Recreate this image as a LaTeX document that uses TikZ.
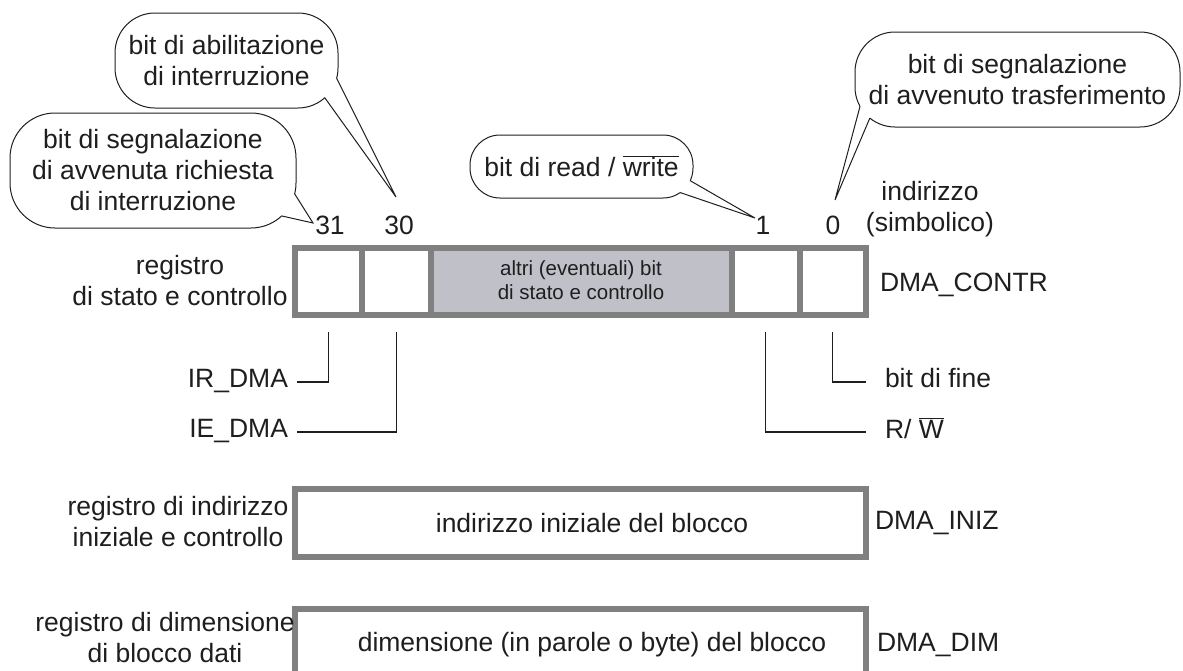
\documentclass[tikz,border=0pt]{standalone}
\usepackage{fontspec}
\setmainfont{Liberation Sans}
\usetikzlibrary{calc}
\definecolor{ink}{RGB}{30,30,30}
\definecolor{regline}{RGB}{128,128,128}
\definecolor{regfill}{RGB}{192,192,200}

\begin{document}
\begin{tikzpicture}[x=1pt,y=-1pt,
  every node/.style={text=ink, inner sep=0pt, outer sep=0pt},
  txt/.style={font=\fontsize{26.5}{31}\selectfont, align=center},
  smalltxt/.style={font=\fontsize{20.5}{24}\selectfont, align=center},
  lbl/.style={txt, text depth=0pt},
  cell/.style={draw=regline, line width=6pt, minimum height=67pt, fill=white},
  regbox/.style={draw=regline, line width=6pt, minimum height=68pt, minimum width=571pt, fill=white},
  bubble/.style={txt},
  bubline/.style={draw=ink, line width=1pt},
  lead/.style={draw=ink, line width=1.2pt},
]
\useasboundingbox (0,0) rectangle (1183,670);
\clip (0,0) rectangle (1183,670);

% ---------------- status / control register ----------------
\node[cell, minimum width=67pt]    (c1) at (328.5,281.5) {};
\node[cell, minimum width=69pt]    (c2) at (396.5,281.5) {};
\node[cell, minimum width=300.5pt, fill=regfill] (c3) at (581.25,281.5) {};
\node[cell, minimum width=68pt]    (c4) at (765.5,281.5) {};
\node[cell, minimum width=66.5pt]  (c5) at (832.75,281.5) {};
\node[smalltxt] (c3t) at (581,280) {altri (eventuali) bit\\di stato e controllo};

\node[txt] (reg1) at (180,281) {registro\\di stato e controllo};
\node[lbl, anchor=west] (contr) at (880,282) {DMA\_CONTR};

% bit numbers
\node[lbl] (n31) at (330,225) {31};
\node[lbl] (n30) at (399,225) {30};
\node[lbl] (n1)  at (763,225) {1};
\node[lbl] (n0)  at (833,225) {0};
\node[txt] (addr) at (930,209) {indirizzo\\(simbolico)};

% bit names below the register
\node[lbl, anchor=east] (irdma) at (288,378) {IR\_DMA};
\node[lbl, anchor=east] (iedma) at (288,428) {IE\_DMA};
\node[lbl, anchor=west] (fine)  at (885,378) {bit di fine};
\node[lbl, anchor=west] (rw)    at (885,428) {R/ \(\overline{\mbox{W}}\)};

\draw[lead] ($(c1.south)+(0,17)$) |- ($(irdma.east)+(9,4)$);
\draw[lead] ($(c2.south)+(0,17)$) |- ($(iedma.east)+(9,4)$);
\draw[lead] ($(c4.south)+(0,17)$) |- ($(rw.west)+(-19,4)$);
\draw[lead] ($(c5.south)+(0,17)$) |- ($(fine.west)+(-19,4)$);

% ---------------- start address register ----------------
\node[regbox] (iniz) at (580.5,523) {};
\node[txt] (inizt) at (592,523) {indirizzo iniziale del blocco};
\node[txt] (reg2) at (178,522) {registro di indirizzo\\iniziale e controllo};
\node[lbl, anchor=west] (inizn) at (875,520) {DMA\_INIZ};

% ---------------- block size register ----------------
\node[regbox] (dim) at (580.5,643) {};
\node[txt] (dimt) at (592,645) {dimensione (in parole o byte) del blocco};
\node[txt] (reg3) at (165,638) {registro di dimensione\\di blocco dati};
\node[lbl, anchor=west] (dimn) at (877,642) {DMA\_DIM};

% ---------------- callouts ----------------
\node[bubble, minimum width=223pt, minimum height=95pt]  (b1) at (226.5,60.5) {bit di abilitazione\\di interruzione};
\node[bubble, minimum width=286pt, minimum height=115pt] (b2) at (153,170.5) {bit di segnalazione\\di avvenuta richiesta\\di interruzione};
\node[bubble, minimum width=223pt, minimum height=63pt]  (b3) at (581.5,166.5) {bit di read / \(\overline{\mbox{write}}\)};
\node[bubble, minimum width=325pt, minimum height=95pt]  (b4) at (1017.5,79.5) {bit di segnalazione\\di avvenuto trasferimento};

% corner centres of the rounded outlines
\coordinate (k1) at ($(b1.south east)+(-40,-40)$);
\coordinate (k2) at ($(b2.south east)+(-45,-45)$);
\coordinate (k3) at ($(b3.south east)+(-30,-30)$);
\coordinate (k4) at ($(b4.south west)+(40,-40)$);

% pointer bases on the outlines and pointer tips
\coordinate (t1a) at ($(k1)+(15:40)$);  \coordinate (t1ai) at ($(k1)+(15:33)$);
\coordinate (t1b) at ($(k1)+(48:40)$);  \coordinate (t1bi) at ($(k1)+(48:33)$);
\coordinate (t1) at ($(n30)+(-3,-28)$);

\coordinate (t2a) at ($(k2)+(14:45)$);  \coordinate (t2ai) at ($(k2)+(14:38)$);
\coordinate (t2b) at ($(k2)+(47:45)$);  \coordinate (t2bi) at ($(k2)+(47:38)$);
\coordinate (t2) at ($(n31)+(-17,-2)$);

\coordinate (t3a) at ($(k3)+(25:30)$);  \coordinate (t3ai) at ($(k3)+(25:24)$);
\coordinate (t3b) at ($(k3)+(55:30)$);  \coordinate (t3bi) at ($(k3)+(55:24)$);
\coordinate (t3) at ($(n1)+(-8,-7)$);

\coordinate (t4a) at ($(k4)+(151:40)$); \coordinate (t4ai) at ($(k4)+(151:33)$);
\coordinate (t4b) at ($(k4)+(129:40)$); \coordinate (t4bi) at ($(k4)+(129:33)$);
\coordinate (t4) at ($(n0)+(2,-25)$);

% outlines, opened where the pointers join them
\begin{scope}[even odd rule]
  \clip (0,0) rectangle (1183,670)
     (t1a) -- (t1) -- (t1b) -- (t1bi) -- (t1ai) -- cycle
     (t2a) -- (t2) -- (t2b) -- (t2bi) -- (t2ai) -- cycle
     (t3a) -- (t3) -- (t3b) -- (t3bi) -- (t3ai) -- cycle
     (t4a) -- (t4) -- (t4b) -- (t4bi) -- (t4ai) -- cycle;
  \draw[bubline, rounded corners=40pt] (b1.north west) rectangle (b1.south east);
  \draw[bubline, rounded corners=45pt] (b2.north west) rectangle (b2.south east);
  \draw[bubline, rounded corners=30pt] (b3.north west) rectangle (b3.south east);
  \draw[bubline, rounded corners=40pt] (b4.north west) rectangle (b4.south east);
\end{scope}

% pointers
\draw[bubline, line join=miter] (t1a) -- (t1) -- (t1b);
\draw[bubline, line join=miter] (t2a) -- (t2) -- (t2b);
\draw[bubline, line join=miter] (t3a) -- (t3) -- (t3b);
\draw[bubline, line join=miter] (t4a) -- (t4) -- (t4b);
\end{tikzpicture}
\end{document}
